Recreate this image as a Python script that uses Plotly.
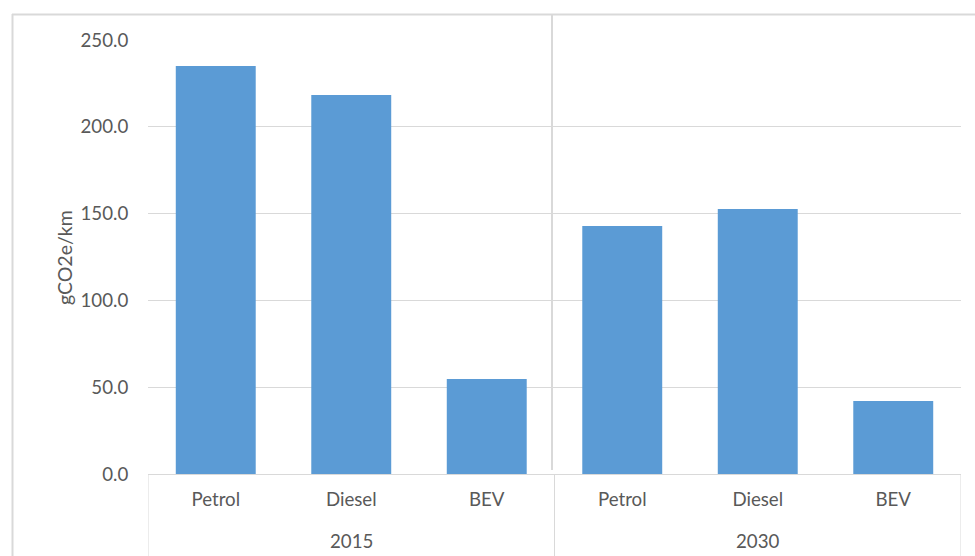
import plotly.graph_objects as go

# ---- data ----
fuels = ["Petrol", "Diesel", "BEV", "Petrol", "Diesel", "BEV"]
years = ["2015", "2015", "2015", "2030", "2030", "2030"]
values = [235.0, 218.3, 54.7, 142.9, 152.6, 42.0]
y_ticks = [0, 50, 100, 150, 200, 250]
y_tick_labels = ["0.0", "50.0", "100.0", "150.0", "200.0", "250.0"]
y_title = "gCO2e/km"

FONT = "Lato"
FS = 18.7
TXT = "#595959"
GRID = "#d9d9d9"
BAR = "#5B9BD5"

W, H = 975, 556
L, R, T, B = 148, 14, 40, 82
pw, ph = W - L - R, H - T - B

def px_x(px):
    return (px - L) / pw

def px_y(py):
    return (H - B - py) / ph

xs = list(range(len(values)))

fig = go.Figure()
fig.add_trace(go.Bar(
    x=xs, y=values,
    marker=dict(color=BAR, line=dict(width=0)),
    hoverinfo="skip",
))

fig.update_layout(
    width=W, height=H,
    margin=dict(l=L, r=R, t=T, b=B, pad=0),
    paper_bgcolor="white", plot_bgcolor="white",
    showlegend=False,
    bargap=0.41,
    font=dict(family=FONT, size=FS, color=TXT),
)
fig.update_xaxes(
    range=[-0.5, len(values) - 0.5],
    tickvals=xs, ticktext=fuels,
    ticks="outside", ticklen=9, tickcolor="rgba(0,0,0,0)",
    showgrid=False, zeroline=False,
    showline=True, linecolor=GRID, linewidth=1,
    tickfont=dict(family=FONT, size=FS, color=TXT),
)
fig.update_yaxes(
    range=[0, 250],
    tickvals=y_ticks, ticktext=y_tick_labels,
    showgrid=True, gridcolor=GRID, gridwidth=1,
    zeroline=False, showline=False,
    ticks="outside", ticklen=15, tickcolor="rgba(0,0,0,0)",
    tickfont=dict(family=FONT, size=FS, color=TXT),
)

# year group labels
groups = []
for i, yr in enumerate(years):
    if not groups or groups[-1][0] != yr:
        groups.append([yr, i, i])
    else:
        groups[-1][2] = i
for yr, a, b in groups:
    fig.add_annotation(x=(a + b) / 2, y=px_y(541), xref="x", yref="paper",
                       text=yr, showarrow=False, yanchor="middle",
                       font=dict(family=FONT, size=FS, color=TXT))

# group dividers below axis
bounds = [-0.5] + [b + 0.5 for _, _, b in groups]
for xb in bounds:
    fig.add_shape(type="line", xref="x", yref="paper",
                  x0=xb, x1=xb, y0=0, y1=px_y(H),
                  line=dict(color=GRID, width=1))

# y-axis title
fig.add_annotation(x=px_x(64), y=px_y(258), xref="paper", yref="paper",
                   text=y_title, textangle=-90, showarrow=False,
                   xanchor="center", yanchor="middle",
                   font=dict(family=FONT, size=19.5, color=TXT))

# outer frame (top and left) and the vertical splitter
fig.add_shape(type="line", xref="paper", yref="paper",
              x0=px_x(12), x1=px_x(W), y0=px_y(14.5), y1=px_y(14.5),
              line=dict(color=GRID, width=2))
fig.add_shape(type="line", xref="paper", yref="paper",
              x0=px_x(12.5), x1=px_x(12.5), y0=px_y(14), y1=px_y(H),
              line=dict(color=GRID, width=2))
fig.add_shape(type="line", xref="paper", yref="paper",
              x0=px_x(552), x1=px_x(552), y0=px_y(14), y1=px_y(470),
              line=dict(color=GRID, width=2))

fig.write_html("out.html")
